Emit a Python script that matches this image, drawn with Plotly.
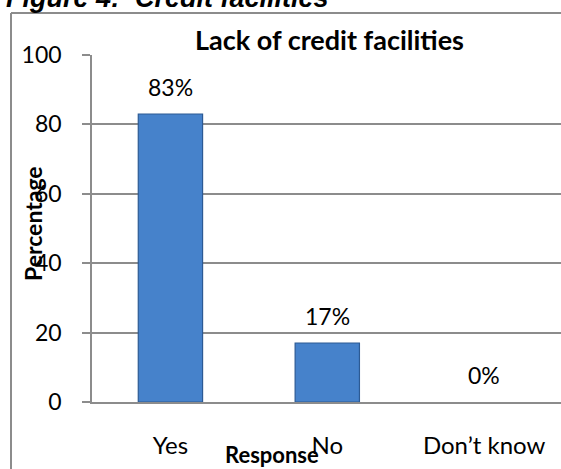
import plotly.graph_objects as go

# Survey responses on lack of credit facilities
responses = ["Yes", "No", "Don’t know"]
percentages = [83, 17, 0]
value_labels = ["83%", "17%", "0%"]
y_ticks = [0, 20, 40, 60, 80, 100]

W, H = 561, 469
M_L, M_R, M_T, M_B = 92, 0, 55, 67
plot_w = W - M_L - M_R
plot_h = H - M_T - M_B


def px_x(x):
    return (x - M_L) / plot_w


def px_y(y):
    return 1 - (y - M_T) / plot_h


font_family = "Lato, 'Open Sans', sans-serif"
grey = "#8c8c8c"

# no outline on empty bars so a zero value leaves no mark
outline_widths = [1.2 if v > 0 else 0 for v in percentages]

fig = go.Figure()
fig.add_trace(go.Bar(
    x=responses,
    y=percentages,
    width=0.41,
    marker=dict(color="#4682cb", line=dict(color="#2c5a94", width=outline_widths)),
    hoverinfo="skip",
))

# value labels above each bar
for cat, val, lab in zip(responses, percentages, value_labels):
    fig.add_annotation(x=cat, y=val, text=lab, showarrow=False,
                       xref="x", yref="y", yanchor="bottom", yshift=11,
                       font=dict(family=font_family, size=23, color="#000"))

# chart title
fig.add_annotation(x=px_x(329), y=px_y(40), xref="paper", yref="paper",
                   text="<b>Lack of credit facilities</b>", showarrow=False,
                   xanchor="center", yanchor="middle",
                   font=dict(family=font_family, size=27, color="#000"))

# figure caption, partly above the page edge
fig.add_annotation(x=px_x(4), y=px_y(-2), xref="paper", yref="paper",
                   text="<b><i>Figure 4:  Credit facilities</i></b>", showarrow=False,
                   xanchor="left", yanchor="middle",
                   font=dict(family="Liberation Sans, Arial, sans-serif", size=27, color="#000"))

# axis titles
fig.add_annotation(x=px_x(33), y=px_y(224), xref="paper", yref="paper",
                   text="<b>Percentage</b>", showarrow=False, textangle=-90,
                   xanchor="center", yanchor="middle",
                   font=dict(family=font_family, size=23, color="#000"))
fig.add_annotation(x=px_x(272), y=px_y(454), xref="paper", yref="paper",
                   text="<b>Response</b>", showarrow=False,
                   xanchor="center", yanchor="middle",
                   font=dict(family=font_family, size=22, color="#000"))

# outer chart frame
fig.add_shape(type="line", xref="paper", yref="paper",
              x0=px_x(11), x1=px_x(11), y0=px_y(13), y1=px_y(475),
              line=dict(color=grey, width=2))
fig.add_shape(type="line", xref="paper", yref="paper",
              x0=px_x(11), x1=px_x(570), y0=px_y(13), y1=px_y(13),
              line=dict(color=grey, width=2))

fig.update_layout(
    width=W, height=H,
    margin=dict(l=M_L, r=M_R, t=M_T, b=M_B),
    paper_bgcolor="white", plot_bgcolor="white",
    showlegend=False,
)
fig.update_xaxes(
    range=[-0.5, 2.49],
    showline=True, linecolor=grey, linewidth=1.5,
    ticks="", showgrid=False,
    tickfont=dict(family=font_family, size=24, color="#000"),
    ticklabelstandoff=21,
)
fig.update_yaxes(
    range=[0, 100], tickvals=y_ticks,
    showline=True, linecolor=grey, linewidth=1.5,
    ticks="outside", ticklen=8, tickcolor=grey, tickwidth=1.5,
    showgrid=True, gridcolor=grey, gridwidth=1.5,
    zeroline=False,
    tickfont=dict(family=font_family, size=23, color="#000"),
    ticklabelstandoff=16,
)

fig.write_html("out.html")
